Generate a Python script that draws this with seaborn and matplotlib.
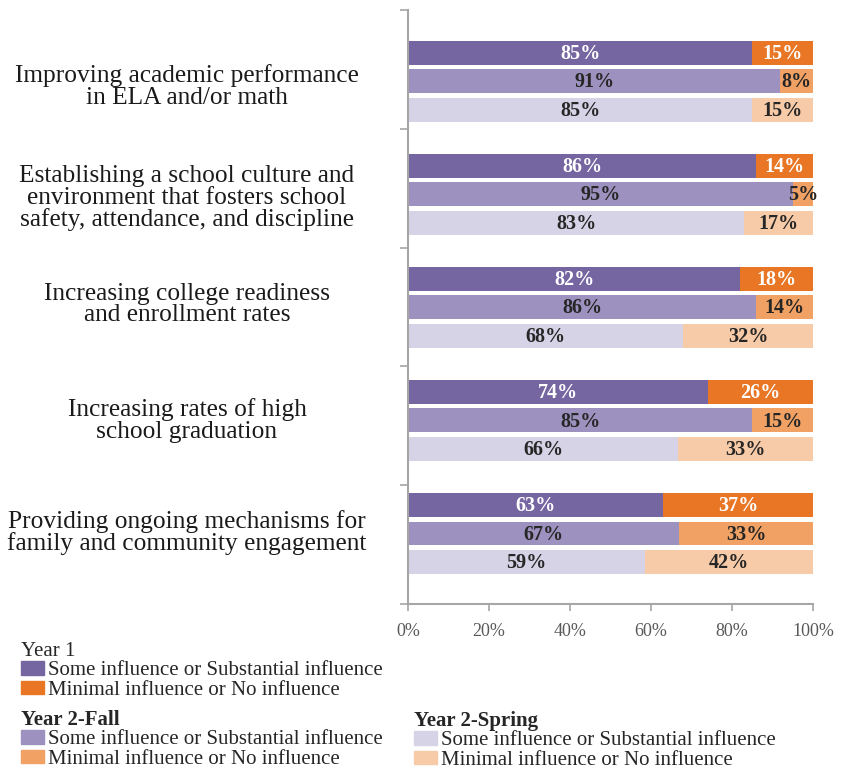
import numpy as np
import pandas as pd
import matplotlib
matplotlib.use("Agg")
import matplotlib.pyplot as plt
import matplotlib.patches as mpatches
import matplotlib.transforms as mtransforms
import seaborn as sns

categories = [
    "Improving academic performance\nin ELA and/or math",
    "Establishing a school culture and\nenvironment that fosters school\nsafety, attendance, and discipline",
    "Increasing college readiness\nand enrollment rates",
    "Increasing rates of high\nschool graduation",
    "Providing ongoing mechanisms for\nfamily and community engagement",
]
periods = ["Year 1", "Year 2-Fall", "Year 2-Spring"]
some_y1 = [85, 86, 82, 74, 63]
min_y1 = [15, 14, 18, 26, 37]
some_fall = [91, 95, 86, 85, 67]
min_fall = [8, 5, 14, 15, 33]
some_spring = [85, 83, 68, 66, 59]
min_spring = [15, 17, 32, 33, 42]
x_ticks = [0, 20, 40, 60, 80, 100]
series_labels = ["Some influence or Substantial influence", "Minimal influence or No influence"]

some_colors = ["#7565A1", "#9D92BF", "#D6D3E6"]
min_colors = ["#E87624", "#F0A163", "#F8CBA8"]
label_colors = ["white", "#262626", "#262626"]

some_all = [some_y1, some_fall, some_spring]
min_all = [min_y1, min_fall, min_spring]

rows = []
for p, s_list, m_list in zip(periods, some_all, min_all):
    for c, s, m in zip(categories, s_list, m_list):
        rows.append({"category": c, "period": p, "some": s, "minimal": m,
                     "some_n": s / (s + m) * 100, "total": 100.0})
df = pd.DataFrame(rows)

sns.set_theme(style="white")
plt.rcParams["font.family"] = ["Liberation Serif", "DejaVu Serif"]

fig = plt.figure(figsize=(8.5, 7.67), dpi=100)
ax = fig.add_axes([408 / 850, 1 - 604 / 767, 405 / 850, 594 / 767])

sns.barplot(data=df, y="category", x="total", hue="period", hue_order=periods,
            order=categories, palette=min_colors, orient="h", width=0.756, gap=0.16,
            dodge=True, legend=False, ax=ax, errorbar=None, linewidth=0, saturation=1)
n_first = len(ax.containers)
sns.barplot(data=df, y="category", x="some_n", hue="period", hue_order=periods,
            order=categories, palette=some_colors, orient="h", width=0.756, gap=0.16,
            dodge=True, legend=False, ax=ax, errorbar=None, linewidth=0, saturation=1)

# value labels
for i, p in enumerate(periods):
    sub = df[df.period == p].set_index("category").loc[categories]
    cont_some = ax.containers[n_first + i]
    for bar_s, s, m, sn in zip(cont_some, sub["some"], sub["minimal"], sub["some_n"]):
        yc = bar_s.get_y() + bar_s.get_height() / 2 + 0.01
        ax.text(sn / 2, yc, f"{s}%", ha="center", va="center", fontsize=14.5,
                fontweight="bold", color=label_colors[i])
        ax.text((sn + 100) / 2, yc, f"{m}%", ha="center", va="center", fontsize=14.5,
                fontweight="bold", color=label_colors[i])

top, bottom = -0.628, 4.623
ax.set_ylim(bottom, top)
ax.set_xlim(0, 100)
ax.set_xticks(x_ticks)
ax.set_xticklabels([f"{t}%" for t in x_ticks], fontsize=13, color="#595959")
ax.set_xlabel("")
ax.set_ylabel("")
edges = np.linspace(top, bottom, 6)
ax.set_yticks(range(len(categories)))
ax.set_yticklabels([])
ax.set_yticks(edges, minor=True)
ax.tick_params(axis="y", which="major", length=0)
ax.tick_params(axis="y", which="minor", length=6, width=1.2, color="#A6A6A6", direction="out", left=True)
ax.tick_params(axis="x", which="major", length=5, width=1.2, color="#A6A6A6", direction="out", bottom=True, pad=9)
for sp in ["top", "right"]:
    ax.spines[sp].set_visible(False)
for sp in ["left", "bottom"]:
    ax.spines[sp].set_color("#A6A6A6")
    ax.spines[sp].set_linewidth(1.5)

# category labels, centred left of the axis, with small vertical nudges (points, + = up)
label_nudges_pt = [-3.9, -2.9, 2.1, -0.2, 0.7]
label_tr = mtransforms.blended_transform_factory(ax.transAxes, ax.transData)
for k, (cat, dy) in enumerate(zip(categories, label_nudges_pt)):
    tr = label_tr + mtransforms.ScaledTranslation(-221 / 100, dy / 72, fig.dpi_scale_trans)
    ax.text(0, k, cat, transform=tr, ha="center", va="center", fontsize=18.3,
            color="#1a1a1a", linespacing=0.98)

# legends
def make_handles(idx):
    return [mpatches.Patch(color=some_colors[idx], label=series_labels[0]),
            mpatches.Patch(color=min_colors[idx], label=series_labels[1])]

leg_kw = dict(frameon=False, fontsize=15, handlelength=1.1, handleheight=0.6,
              handletextpad=0.18, labelspacing=0.02, borderaxespad=0, borderpad=0,
              alignment="left")
l1 = fig.legend(handles=make_handles(0), title="Year 1", loc="upper left",
                bbox_to_anchor=(21 / 850, 1 - 642 / 767), **leg_kw)
l1.get_title().set_fontsize(15)
l2 = fig.legend(handles=make_handles(1), title="Year 2-Fall", loc="upper left",
                bbox_to_anchor=(21 / 850, 1 - 710 / 767), **leg_kw)
l2.get_title().set_fontsize(15)
l2.get_title().set_fontweight("bold")
l3 = fig.legend(handles=make_handles(2), title="Year 2-Spring", loc="upper left",
                bbox_to_anchor=(414 / 850, 1 - 711 / 767), **leg_kw)
l3.get_title().set_fontsize(15)
l3.get_title().set_fontweight("bold")

fig.savefig("out.png", dpi=100, facecolor="white")
